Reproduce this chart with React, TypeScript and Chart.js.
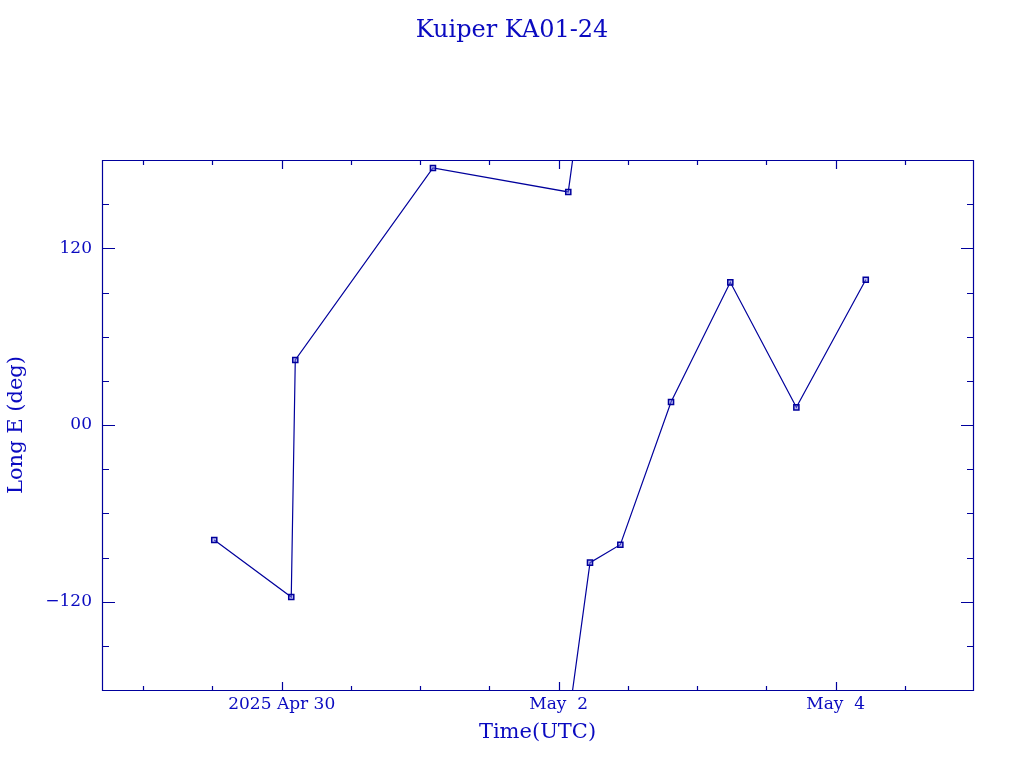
import { useEffect, useRef } from 'react';
import { Chart, registerables } from 'chart.js';

Chart.register(...registerables);

const TITLE = 'Kuiper KA01-24';
const X_TITLE = 'Time(UTC)';
const Y_TITLE = 'Long E (deg)';

// time in days since 2025 Apr 30 00:00 UTC
const timesDays = [-0.487, 0.069, 0.098, 1.092, 2.069, 2.226, 2.445, 2.811, 3.239, 3.716, 4.217];
// east longitude, degrees
const longitudesDeg = [-78.1, -116.8, 44.2, 174.6, 158.3, -93.5, -81.3, 15.6, 96.9, 12.0, 98.7];

const xTickValues = [0, 2, 4];
const xTickLabels = ['2025 Apr 30', 'May  2', 'May  4'];
const yTickValues = [-120, 0, 120];
const yTickLabels = ['\u2212120', '00', '120'];

const X_MIN = -1.2975;
const X_MAX = 4.9913;
const Y_MIN = -180;
const Y_MAX = 180;
const X_MINOR_STEP = 0.5;
const Y_MINOR_STEP = 30;

const LINE = '#00009c';
const TEXT = '#0a0ac0';
const FONT = "'DejaVu Serif', serif";

type Pt = { x: number; y: number; ghost: boolean };

function buildSegments(): Pt[][] {
  const segs: Pt[][] = [];
  let cur: Pt[] = [];
  for (let i = 0; i < timesDays.length; i++) {
    if (i > 0) {
      const d = longitudesDeg[i] - longitudesDeg[i - 1];
      if (Math.abs(d) > 180) {
        const shift = d < 0 ? 360 : -360;
        cur.push({ x: timesDays[i], y: longitudesDeg[i] + shift, ghost: true });
        segs.push(cur);
        cur = [{ x: timesDays[i - 1], y: longitudesDeg[i - 1] - shift, ghost: true }];
      }
    }
    cur.push({ x: timesDays[i], y: longitudesDeg[i], ghost: false });
  }
  segs.push(cur);
  return segs;
}

const frameAndTicks = {
  id: 'frameAndTicks',
  afterDraw(chart: any) {
    const { ctx, chartArea } = chart;
    const { left, right, top, bottom } = chartArea;
    const xs = chart.scales.x;
    const ys = chart.scales.y;
    ctx.save();
    ctx.strokeStyle = LINE;
    ctx.lineWidth = 1.2;
    ctx.beginPath();
    ctx.rect(left + 0.5, top + 0.5, right - left, bottom - top);
    const start = Math.ceil(X_MIN / X_MINOR_STEP) * X_MINOR_STEP;
    for (let v = start; v <= X_MAX + 1e-9; v += X_MINOR_STEP) {
      const px = Math.round(xs.getPixelForValue(v)) + 0.5;
      const major = xTickValues.some((t) => Math.abs(t - v) < 1e-6);
      const len = major ? 8 : 4;
      ctx.moveTo(px, bottom);
      ctx.lineTo(px, bottom - len);
      ctx.moveTo(px, top + 1);
      ctx.lineTo(px, top + 1 + len);
    }
    for (let v = Y_MIN + Y_MINOR_STEP; v < Y_MAX; v += Y_MINOR_STEP) {
      const py = Math.round(ys.getPixelForValue(v)) + 0.5;
      const major = yTickValues.some((t) => Math.abs(t - v) < 1e-6);
      const len = major ? 12 : 6;
      ctx.moveTo(left + 1, py);
      ctx.lineTo(left + 1 + len, py);
      ctx.moveTo(right, py);
      ctx.lineTo(right - len, py);
    }
    ctx.stroke();
    ctx.restore();
  },
};

export default function App() {
  const ref = useRef<HTMLCanvasElement | null>(null);

  useEffect(() => {
    if (!ref.current) return;
    const segs = buildSegments();
    const datasets = segs.map((seg, i) => ({
      label: 'seg' + i,
      data: seg.map((p) => ({ x: p.x, y: p.y })),
      borderColor: LINE,
      borderWidth: 1.2,
      backgroundColor: 'rgba(255,255,255,0)',
      pointStyle: 'rect' as const,
      pointRadius: seg.map((p) => (p.ghost ? 0 : 3.6)),
      pointBorderColor: LINE,
      pointBorderWidth: 1.5,
      pointBackgroundColor: 'rgba(120,120,230,0.5)',
      showLine: true,
      tension: 0,
      fill: false,
    }));

    const chart = new Chart(ref.current, {
      type: 'scatter',
      data: { datasets },
      plugins: [frameAndTicks],
      options: {
        animation: false,
        responsive: false,
        events: [],
        layout: { padding: 0 },
        plugins: {
          legend: { display: false },
          tooltip: { enabled: false },
          title: {
            display: true,
            text: TITLE,
            color: TEXT,
            font: { family: FONT, size: 24, weight: 'normal', lineHeight: 1.2 },
            padding: { top: 16, bottom: 160 - 16 - 28.8 },
          },
        },
        scales: {
          x: {
            type: 'linear',
            min: X_MIN,
            max: X_MAX,
            grid: { display: false, drawTicks: false },
            border: { display: false },
            afterBuildTicks: (s: any) => {
              s.ticks = xTickValues.map((v) => ({ value: v }));
            },
            afterFit: (s: any) => {
              s.height = 78;
            },
            ticks: {
              autoSkip: false,
              maxRotation: 0,
              padding: 4,
              color: TEXT,
              font: { family: FONT, size: 17 },
              callback: (v: any) => {
                const i = xTickValues.findIndex((t) => Math.abs(t - Number(v)) < 1e-6);
                return i >= 0 ? xTickLabels[i] : '';
              },
            },
            title: {
              display: true,
              text: X_TITLE,
              color: TEXT,
              font: { family: FONT, size: 21 },
              padding: { top: 0, bottom: 23 },
            },
          },
          y: {
            type: 'linear',
            position: 'left',
            min: Y_MIN,
            max: Y_MAX,
            grid: { display: false, drawTicks: false },
            border: { display: false },
            afterBuildTicks: (s: any) => {
              s.ticks = yTickValues.map((v) => ({ value: v }));
            },
            afterFit: (s: any) => {
              s.width = 102;
            },
            ticks: {
              autoSkip: false,
              padding: 10,
              color: TEXT,
              font: { family: FONT, size: 17 },
              callback: (v: any) => {
                const i = yTickValues.findIndex((t) => Math.abs(t - Number(v)) < 1e-6);
                return i >= 0 ? yTickLabels[i] : '';
              },
            },
            title: {
              display: true,
              text: Y_TITLE,
              color: TEXT,
              font: { family: FONT, size: 21 },
              padding: { top: 4, bottom: 0 },
            },
          },
          yRight: {
            type: 'linear',
            position: 'right',
            min: Y_MIN,
            max: Y_MAX,
            grid: { display: false, drawTicks: false },
            border: { display: false },
            ticks: { display: false },
            afterFit: (s: any) => {
              s.width = 51;
            },
          },
        },
      },
    });
    return () => chart.destroy();
  }, []);

  return (
    <div style={{ position: 'absolute', left: 0, top: 0, width: 1024, height: 768, background: '#fff' }}>
      <canvas ref={ref} width={1024} height={768} style={{ display: 'block' }} />
    </div>
  );
}
